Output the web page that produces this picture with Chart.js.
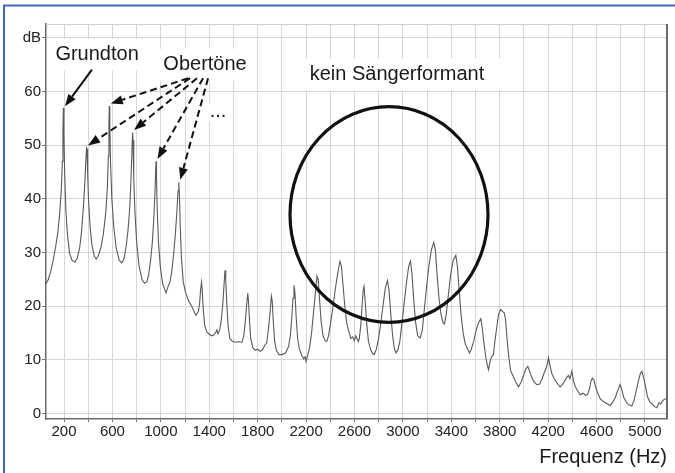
<!DOCTYPE html>
<html>
<head>
<meta charset="utf-8">
<script src="https://cdn.jsdelivr.net/npm/chart.js@4/dist/chart.umd.min.js"></script>
<style>
  html, body { margin: 0; padding: 0; background: #fff; }
</style>
</head>
<body>
<canvas id="chart" width="675" height="473"></canvas>
<script>
// spectrum in four pieces (Hz / dB)
const lowFreq = [
    51, 70, 90, 110, 130, 150, 165, 178, 186, 191,
    195, 199, 205, 215, 228, 245, 265, 290, 310, 330,
    345, 360, 372, 380, 386, 390, 395, 402, 415, 430,
    450, 466, 485, 505, 525, 545, 558, 566, 571, 574,
    578, 584, 595, 610, 630, 655, 677, 695, 712, 728,
    742, 752, 760, 766, 770, 776, 786, 800, 820, 845,
    865, 885, 900, 915, 930, 942, 951, 957, 960, 964,
    970, 980, 995, 1015, 1043, 1060, 1075, 1090, 1105, 1120,
    1132, 1142, 1148, 1153, 1160, 1170, 1185, 1205, 1230, 1255,
    1290
];
const lowLevel = [
    24.2, 25.0, 26.5, 28.5, 31, 34, 37.5, 42, 47, 53,
    57.0, 52, 45, 38, 33.5, 30, 28.6, 28.2, 29.0, 31,
    34, 38.5, 43, 47, 49.5, 49.3, 45, 40, 35, 31.5,
    29.3, 28.8, 29.5, 31, 33.5, 37.5, 42, 48, 54, 57.3,
    54, 47, 40, 35, 31, 28.6, 28.1, 28.8, 31, 34,
    38, 43, 48, 52.4, 51, 44, 37.5, 32, 27.5, 25,
    24.3, 24.6, 26, 28.5, 32, 36.5, 41, 45, 47.0, 44,
    38, 32, 27.5, 24.2, 22.5, 23.7, 24.5, 26.5, 29.5, 33.5,
    37.5, 41.5, 43.1, 41, 35, 29, 24.5, 22.5, 21, 20,
    18.3
];

const midFreq = [
    1310, 1320, 1328, 1336, 1342, 1350, 1362, 1380, 1400, 1420,
    1440, 1455, 1463, 1472, 1485, 1500, 1512, 1522, 1530, 1536,
    1545, 1555, 1570, 1590, 1610, 1640, 1670, 1685, 1697, 1708,
    1718, 1724, 1732, 1742, 1760, 1780, 1800, 1820, 1840, 1860,
    1875, 1890, 1903, 1913, 1920, 1928, 1940, 1955, 1975, 2000,
    2030, 2055, 2070, 2082, 2092, 2100, 2108, 2118, 2130, 2145,
    2165, 2180, 2192, 2200, 2215, 2230, 2245, 2260, 2275, 2290,
    2300, 2312, 2325, 2340, 2360, 2372, 2385, 2400, 2420, 2440,
    2460, 2480, 2492, 2505, 2520, 2535, 2550, 2570, 2585, 2598,
    2610, 2620, 2632
];
const midLevel = [
    19, 20.5, 23, 24.5, 23, 19.5, 16.5, 15.2, 14.8, 14.5,
    14.7, 15.2, 15.6, 14.9, 15.5, 17.5, 20.5, 24, 26.7, 25,
    20.5, 16.5, 14, 13.5, 13.3, 13.4, 13.3, 14.5, 17, 20,
    22.4, 21, 17.5, 14, 12.3, 11.8, 12, 11.6, 11.9, 12.8,
    13.2, 16, 19, 21.9, 21, 17.5, 13.5, 11.8, 11.0, 11.0,
    11.3, 12.5, 14.5, 18, 21.5, 23.9, 22.5, 18, 14, 12,
    10.8, 10.2, 10.6, 9.7, 11, 12.5, 15, 18.5, 22, 25.6,
    25, 21, 17, 14.5, 13.5, 13.5, 14.5, 16.5, 19.5, 23,
    26, 28.4, 27.5, 24, 20, 17, 15.5, 14, 14.3, 13.6,
    14.5, 14.0, 13.4
];

const formantFreq = [
    2640, 2652, 2662, 2672, 2679, 2688, 2700, 2715, 2735, 2750,
    2762, 2778, 2795, 2815, 2835, 2855, 2872, 2885, 2900, 2915,
    2930, 2944, 2960, 2975, 2990, 3010, 3030, 3048, 3062, 3075,
    3090, 3105, 3122, 3142, 3160, 3175, 3195, 3215, 3235, 3255,
    3268, 3282, 3298, 3315, 3330, 3343, 3358, 3375, 3395, 3415,
    3437, 3450, 3465, 3480, 3498, 3515, 3535, 3550, 3565, 3585,
    3605, 3625, 3644, 3655, 3670, 3685, 3698, 3707, 3718, 3730,
    3748, 3760, 3775, 3790, 3809, 3825, 3837, 3848
];
const formantLevel = [
    14, 16.5, 20, 23, 23.7, 21, 17, 13.5, 11.8, 11.2,
    11.0, 11.8, 13.5, 16.5, 20, 23.5, 24.8, 23, 18.5, 14.5,
    12, 11.3, 12, 13.5, 16.5, 20.5, 24.5, 27.5, 28.4, 26,
    21, 17, 14.5, 14.1, 15.5, 19, 23.5, 27.5, 30.5, 31.9,
    30.5, 26, 21.5, 18.5, 17, 16.7, 18.5, 22, 26, 28.5,
    29.5, 27.5, 23, 18.5, 15, 13, 12, 11.3, 12, 13.5,
    15.5, 17, 17.7, 16, 13, 10.5, 9, 8.2, 9.5, 10.5,
    11, 13.5, 16, 18.5, 19.4, 19, 18.8, 17.5
];

const highFreq = [
    3860, 3875, 3890, 3910, 3930, 3955, 3975, 3995, 4015, 4032,
    4045, 4060, 4080, 4106, 4130, 4150, 4170, 4185, 4203, 4215,
    4230, 4250, 4270, 4299, 4320, 4340, 4355, 4368, 4380, 4396,
    4410, 4425, 4445, 4464, 4490, 4510, 4523, 4540, 4555, 4566,
    4578, 4592, 4610, 4630, 4660, 4690, 4712, 4735, 4755, 4775,
    4795, 4808, 4825, 4850, 4870, 4892, 4910, 4930, 4950, 4962,
    4974, 4988, 5005, 5020, 5040, 5060, 5080, 5098, 5115, 5130,
    5150, 5165, 5181
];
const highLevel = [
    14, 10.5, 8, 7, 6, 5.0, 5.8, 7, 8.3, 8.8,
    8.0, 7, 6, 5.4, 5.5, 6.5, 7.8, 8.5, 10.4, 9,
    7.5, 6.5, 5.8, 5.0, 5.5, 6.2, 6.8, 7.1, 6.5, 7.9,
    6, 5, 4.2, 3.5, 3.8, 3.4, 3.5, 4.5, 6.2, 6.6,
    6.3, 5, 3.8, 2.8, 2.2, 1.8, 1.5, 2.2, 3, 4.3,
    5.4, 4.5, 3, 2, 1.6, 1.4, 2.5, 4.5, 6.5, 7.5,
    7.9, 6.8, 5, 3.2, 2.2, 1.8, 1.3, 1.1, 2, 1.8,
    2.5, 2.7, 2.9
];

// Grundton + first Obertöne the arrows point at
const partialFreq = [195, 386, 574, 766, 960, 1148];
const partialLevel = [57.0, 49.5, 57.3, 52.4, 47.0, 43.1];

// axes
const xGridHz = [];
for (let f = 200; f <= 5000; f += 200) xGridHz.push(f);
const xLabelHz = [200, 600, 1000, 1400, 1800, 2200, 2600, 3000, 3400, 3800, 4200, 4600, 5000];
const yGridDb = [0, 10, 20, 30, 40, 50, 60, 70];

const freqHz = lowFreq.concat(midFreq, formantFreq, highFreq);
const levelDb = lowLevel.concat(midLevel, formantLevel, highLevel);

const fam = '"Liberation Sans", Arial, sans-serif';

function drawArrow(ctx, x1, y1, x2, y2, dashed) {
    const ang = Math.atan2(y2 - y1, x2 - x1);
    const len = 12, half = 4.5;
    const bx = x2 - len * Math.cos(ang);
    const by = y2 - len * Math.sin(ang);
    ctx.save();
    ctx.strokeStyle = '#111';
    ctx.fillStyle = '#111';
    ctx.lineWidth = 2;
    ctx.setLineDash(dashed ? [7, 4] : []);
    ctx.beginPath();
    ctx.moveTo(x1, y1);
    ctx.lineTo(bx, by);
    ctx.stroke();
    ctx.setLineDash([]);
    ctx.beginPath();
    ctx.moveTo(x2, y2);
    ctx.lineTo(bx + half * Math.sin(ang), by - half * Math.cos(ang));
    ctx.lineTo(bx - half * Math.sin(ang), by + half * Math.cos(ang));
    ctx.closePath();
    ctx.fill();
    ctx.restore();
}

// text labels, anchored in Hz / dB
const notes = [
    { text: 'Grundton', f: 473, db: 66.9, box: true },
    { text: 'Obertöne', f: 1365, db: 65.0, box: true },
    { text: 'kein Sängerformant', f: 2951, db: 63.2, box: true, padX: 16 },
];

const annotations = {
    id: 'annotations',
    beforeDraw(chart) {
        const ctx = chart.ctx;
        ctx.save();
        // blue frame of the figure
        ctx.strokeStyle = '#4565be';
        ctx.lineWidth = 2;
        ctx.beginPath();
        ctx.moveTo(4, 473);
        ctx.lineTo(4, 5.5);
        ctx.lineTo(675, 5.5);
        ctx.stroke();
        ctx.restore();
    },
    beforeDatasetsDraw(chart) {
        const { ctx, scales: { x, y } } = chart;
        ctx.save();
        ctx.font = '20px ' + fam;
        ctx.fillStyle = '#fff';
        notes.forEach(n => {
            const w = ctx.measureText(n.text).width;
            const px = n.padX || 6;
            const cx = x.getPixelForValue(n.f);
            const cy = y.getPixelForValue(n.db);
            ctx.fillRect(cx - w / 2 - px, cy - 16, w + 2 * px, 32);
        });
        // small box round the dots
        ctx.fillRect(x.getPixelForValue(1472) - 9, y.getPixelForValue(55.2) - 14, 18, 18);
        ctx.restore();
    },
    afterDatasetsDraw(chart) {
        const { ctx, scales: { x, y } } = chart;

        // circle over the formant region
        ctx.save();
        const cx = x.getPixelForValue(2885);
        const cy = y.getPixelForValue(37.1);
        const rx = x.getPixelForValue(2885 + 818) - cx;
        const ry = cy - y.getPixelForValue(37.1 + 20.1);
        ctx.strokeStyle = '#111';
        ctx.lineWidth = 3.2;
        ctx.beginPath();
        ctx.ellipse(cx, cy, rx, ry, 0, 0, Math.PI * 2);
        ctx.stroke();
        ctx.restore();

        // texts
        ctx.save();
        ctx.font = '20px ' + fam;
        ctx.fillStyle = '#1a1a1a';
        ctx.textAlign = 'center';
        ctx.textBaseline = 'middle';
        notes.forEach(n => {
            ctx.fillText(n.text, x.getPixelForValue(n.f), y.getPixelForValue(n.db));
        });
        ctx.textBaseline = 'alphabetic';
        ctx.fillText('...', x.getPixelForValue(1472), y.getPixelForValue(55.2));
        ctx.restore();

        // arrows to the peaks
        const tip = i => [x.getPixelForValue(partialFreq[i]) + 1.5, y.getPixelForValue(partialLevel[i]) - 1.5];
        let t = tip(0);
        drawArrow(ctx, x.getPixelForValue(431), y.getPixelForValue(64.1), t[0], t[1], false);
        const fromHz = [0, 1241, 1225, 1299, 1349, 1390];
        for (let i = 1; i < partialFreq.length; i++) {
            t = tip(i);
            drawArrow(ctx, x.getPixelForValue(fromHz[i]), y.getPixelForValue(62.5), t[0], t[1] - 1, true);
        }
    },
    afterDraw(chart) {
        const { ctx, chartArea: a } = chart;
        ctx.save();
        ctx.strokeStyle = '#cfcfcf';
        ctx.lineWidth = 1;
        ctx.beginPath();
        ctx.moveTo(a.left, a.top + 0.5);
        ctx.lineTo(a.right, a.top + 0.5);
        ctx.stroke();
        ctx.strokeStyle = '#6a6a6a';
        ctx.lineWidth = 2;
        ctx.beginPath();
        ctx.moveTo(a.right, a.top);
        ctx.lineTo(a.right, a.bottom);
        ctx.stroke();
        ctx.restore();
    }
};

const ctx = document.getElementById('chart').getContext('2d');
new Chart(ctx, {
    type: 'line',
    data: {
        datasets: [{
            data: freqHz.map((f, i) => ({ x: f, y: levelDb[i] })),
            borderColor: '#5a5a5a',
            borderWidth: 1.1,
            pointRadius: 0,
            tension: 0,
            fill: false
        }]
    },
    options: {
        responsive: false,
        animation: false,
        devicePixelRatio: 1,
        layout: { padding: { top: 24, right: 8, left: 0, bottom: 0 } },
        plugins: {
            legend: { display: false },
            tooltip: { enabled: false }
        },
        scales: {
            x: {
                type: 'linear',
                min: 51,
                max: 5182,
                afterBuildTicks: s => { s.ticks = xGridHz.map(v => ({ value: v })); },
                afterFit: s => { s.height = 54; },
                ticks: {
                    autoSkip: false,
                    maxRotation: 0,
                    padding: 1,
                    color: '#222',
                    font: { size: 15, family: fam },
                    callback: v => xLabelHz.includes(v) ? String(v) : ''
                },
                grid: { color: '#d6d6d6', tickLength: 3, tickColor: '#777' },
                border: { color: '#6a6a6a', width: 1.5 },
                title: {
                    display: true,
                    text: 'Frequenz (Hz)',
                    align: 'end',
                    color: '#1a1a1a',
                    font: { size: 20, family: fam },
                    padding: { top: 0, bottom: 4 }
                }
            },
            y: {
                min: -1,
                max: 72.6,
                afterBuildTicks: s => { s.ticks = yGridDb.map(v => ({ value: v })); },
                afterFit: s => { s.width = 46; },
                ticks: {
                    padding: 1,
                    color: '#222',
                    font: { size: 15, family: fam },
                    callback: v => v === 70 ? 'dB' : String(v)
                },
                grid: { color: '#d6d6d6', tickLength: 4, tickColor: '#777' },
                border: { color: '#6a6a6a', width: 1.5 }
            }
        }
    },
    plugins: [annotations]
});
</script>
</body>
</html>
